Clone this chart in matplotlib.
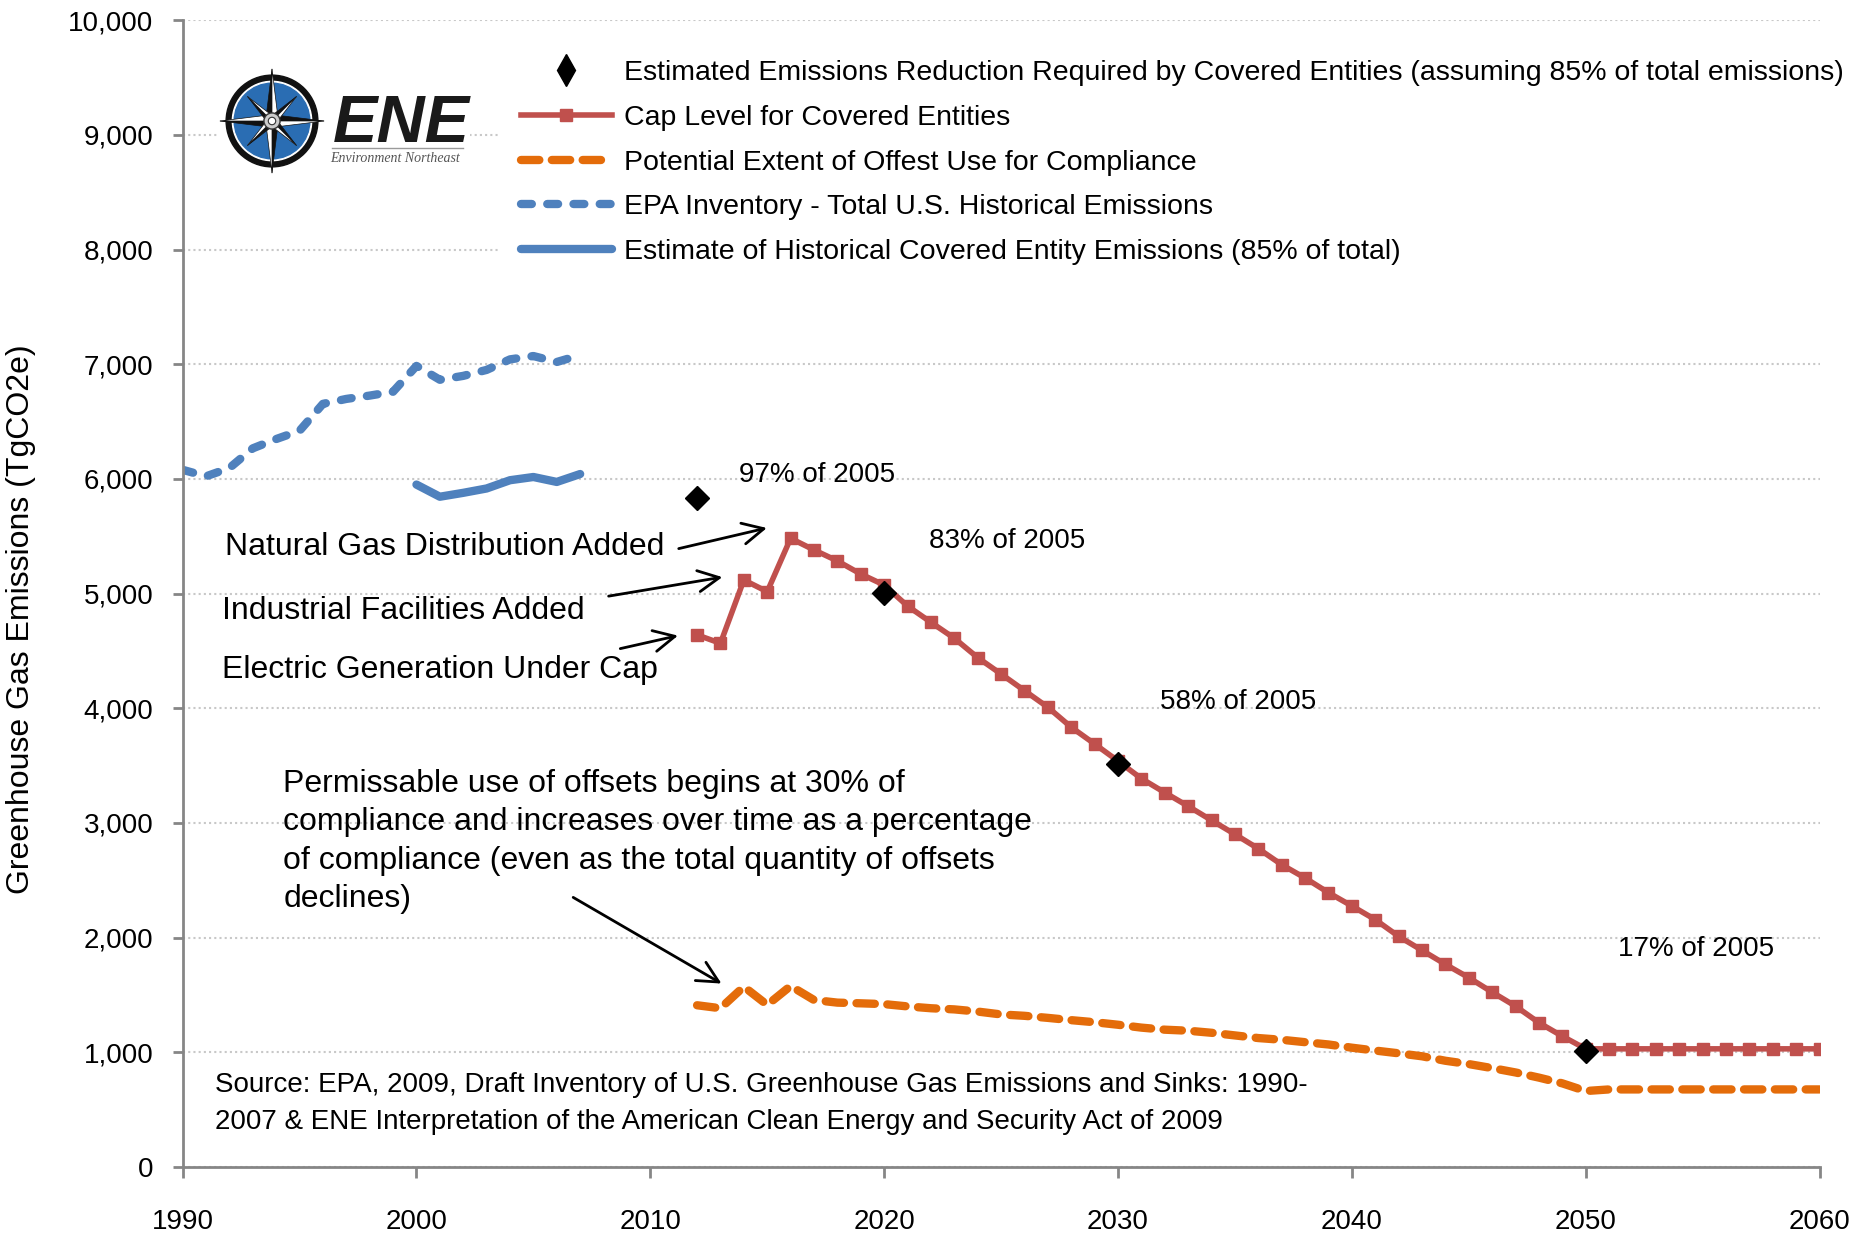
import numpy as np
import matplotlib
matplotlib.use('Agg')
import matplotlib.pyplot as plt
import matplotlib.ticker as mticker
from matplotlib.lines import Line2D
from matplotlib.patches import Circle, Polygon, Rectangle

plt.rcParams['font.family'] = ['Liberation Sans', 'DejaVu Sans']

# ---- data (TgCO2e) ----
hist_years = [1990, 1991, 1992, 1993, 1994, 1995, 1996, 1997, 1998,
              1999, 2000, 2001, 2002, 2003, 2004, 2005, 2006, 2007]
epa_total = [6080, 6023, 6095, 6267, 6348, 6420, 6655, 6698, 6727,
             6761, 6986, 6865, 6899, 6951, 7043, 7072, 7020, 7080]

covered_years = [2000, 2001, 2002, 2003, 2004, 2005, 2006, 2007]
covered_hist = [5951, 5845, 5879, 5917, 5989, 6017, 5974, 6043]

cap_years = list(range(2012, 2061))
cap_level = [4640, 4567, 5119, 5017, 5482, 5381, 5285, 5171, 5075, 4892,
             4750, 4611, 4442, 4299, 4154, 4009, 3835, 3689, 3540, 3387,
             3265, 3146, 3023, 2901, 2776, 2636, 2520, 2392, 2276, 2157,
             2011, 1889, 1767, 1651, 1524, 1402, 1258, 1140, 1030, 1030,
             1030, 1030, 1030, 1030, 1030, 1030, 1030, 1030, 1030]
offset_use = [1410, 1384, 1572, 1413, 1578, 1456, 1433, 1427, 1420, 1400,
              1384, 1374, 1355, 1330, 1318, 1300, 1280, 1262, 1240, 1215,
              1197, 1188, 1170, 1147, 1124, 1109, 1088, 1068, 1040, 1015,
              991, 965, 926, 897, 862, 824, 779, 729, 662, 676,
              676, 676, 676, 676, 676, 676, 676, 676, 676]

reduction_years = [2012, 2020, 2030, 2050]
reduction_req = [5830, 5003, 3510, 1015]
pct_labels = ['97% of 2005', '83% of 2005', '58% of 2005', '17% of 2005']

legend_labels = [
    'Estimated Emissions Reduction Required by Covered Entities (assuming 85% of total emissions)',
    'Cap Level for Covered Entities',
    'Potential Extent of Offest Use for Compliance',
    'EPA Inventory - Total U.S. Historical Emissions',
    'Estimate of Historical Covered Entity Emissions (85% of total)',
]

BLUE = '#4F81BD'
RED = '#C0504D'
ORANGE = '#E46C0A'
AXCOL = '#868686'

fig = plt.figure(figsize=(18.71, 12.38), dpi=100)
ax = fig.add_axes([0.0976, 0.0574, 0.8749, 0.9262])

epa, = ax.plot(hist_years, epa_total, color=BLUE, lw=6, dashes=(1.3, 1.85),
               dash_capstyle='round')
cov, = ax.plot(covered_years, covered_hist, color=BLUE, lw=6,
               solid_capstyle='round')
off, = ax.plot(cap_years, offset_use, color=ORANGE, lw=6, dashes=(2.2, 1.5),
               dash_capstyle='round')
cap, = ax.plot(cap_years, cap_level, color=RED, lw=4, marker='s', ms=9,
               mec=RED, mfc=RED)
ax.plot(reduction_years, reduction_req, ls='none', marker='D', ms=12,
        color='black', zorder=5)
red_proxy = Line2D([], [], ls='none', marker='d', ms=16, color='black')

ax.set_xlim(1990, 2060)
ax.set_ylim(0, 10000)
ax.set_xticks(range(1990, 2061, 10))
ax.yaxis.set_major_locator(mticker.MultipleLocator(1000))
ax.yaxis.set_major_formatter(mticker.StrMethodFormatter('{x:,.0f}'))

ax.yaxis.grid(True, color='#C8C8C8', lw=1.5, linestyle=(0, (1, 1.5)))
ax.set_axisbelow(True)
for s in ['top', 'right']:
    ax.spines[s].set_visible(False)
for s in ['left', 'bottom']:
    ax.spines[s].set_color(AXCOL)
    ax.spines[s].set_linewidth(2)
ax.tick_params(axis='y', direction='out', length=7, width=2, color=AXCOL,
               labelsize=20, pad=14)
ax.tick_params(axis='x', direction='out', length=8, width=2, color=AXCOL,
               labelsize=20, pad=22)

fig.text(21.5 / 1871, 1 - 619 / 1238, 'Greenhouse Gas Emissions (TgCO2e)',
         rotation=90, fontsize=23, ha='center', va='center')

leg = ax.legend([red_proxy, cap, off, epa, cov], legend_labels,
                loc='upper left', bbox_to_anchor=(498 / 1871, 0.970),
                bbox_transform=fig.transFigure, fontsize=20.5, frameon=True,
                fancybox=False, framealpha=1, edgecolor='none',
                facecolor='white', borderpad=0.8, handlelength=3.2,
                handletextpad=0.42, labelspacing=0.66, borderaxespad=0)

# percent labels
pct_pos = [(2013.8, 6035), (2021.9, 5463), (2031.8, 4059), (2051.4, 1905)]
for (x, y), s in zip(pct_pos, pct_labels):
    ax.text(x, y, s, fontsize=20, ha='left', va='center')

# sector annotations
arrow = dict(arrowstyle='->', lw=2, color='black', mutation_scale=38)
notes = [
    ('Natural Gas Distribution Added', (1991.8, 5410), (2011.1, 5387), (2015.1, 5578)),
    ('Industrial Facilities Added', (1991.7, 4851), (2008.1, 4974), (2013.2, 5148)),
    ('Electric Generation Under Cap', (1991.7, 4334), (2008.6, 4515), (2011.3, 4639)),
]
for s, tpos, tail, head in notes:
    ax.text(tpos[0], tpos[1], s, fontsize=23, ha='left', va='center')
    ax.annotate('', xy=head, xytext=tail, arrowprops=arrow)

ax.text(1994.3, 2840,
        'Permissable use of offsets begins at 30% of\n'
        'compliance and increases over time as a percentage\n'
        'of compliance (even as the total quantity of offsets\n'
        'declines)', fontsize=23, ha='left', va='center', linespacing=1.37)
ax.annotate('', xy=(2013.15, 1587), xytext=(2006.6, 2363), arrowprops=arrow)

ax.text(1991.4, 555,
        'Source: EPA, 2009, Draft Inventory of U.S. Greenhouse Gas Emissions and Sinks: 1990-\n'
        '2007 & ENE Interpretation of the American Clean Energy and Security Act of 2009',
        fontsize=20, ha='left', va='center', linespacing=1.55)

# ---- ENE logo ----
fig.add_artist(Rectangle((217 / 1871, 1 - 185 / 1238), 253 / 1871, 130 / 1238,
                         transform=fig.transFigure, fc='white', ec='none',
                         zorder=1))
lax = fig.add_axes([(272 - 62) / 1871, 1 - (121 + 62) / 1238, 124 / 1871, 124 / 1238])
lax.set_zorder(2)
lax.set_xlim(-1, 1)
lax.set_ylim(-1, 1)
lax.axis('off')
lax.add_patch(Circle((0, 0), 0.74, color='#111111'))
lax.add_patch(Circle((0, 0), 0.64, color='white'))
lax.add_patch(Circle((0, 0), 0.61, color='#2a6db3'))
for ang, length, w in [(0, 0.84, 0.13), (90, 0.84, 0.13), (180, 0.84, 0.13), (270, 0.84, 0.13),
                       (45, 0.56, 0.09), (135, 0.56, 0.09), (225, 0.56, 0.09), (315, 0.56, 0.09)]:
    a = np.deg2rad(ang)
    tip = (length * np.cos(a), length * np.sin(a))
    left = (w * np.cos(a + np.pi / 4), w * np.sin(a + np.pi / 4))
    right = (w * np.cos(a - np.pi / 4), w * np.sin(a - np.pi / 4))
    lax.add_patch(Polygon([(0, 0), tip, left], closed=True, fc='#111111', ec='#111111', lw=0.5))
    lax.add_patch(Polygon([(0, 0), tip, right], closed=True, fc='white', ec='#111111', lw=0.5))
lax.add_patch(Circle((0, 0), 0.13, fc='#cccccc', ec='#333333', lw=1))
lax.add_patch(Circle((0, 0), 0.06, fc='white', ec='#333333', lw=0.8))

fig.text(333 / 1871, 1 - 142 / 1238, 'ENE', fontsize=48, fontweight='bold',
         fontstyle='italic', color='#1a1a1a', ha='left', va='baseline',
         zorder=3)
fig.add_artist(Line2D([332 / 1871, 463 / 1871], [1 - 148 / 1238] * 2,
                      color='#9a9a9a', lw=1, zorder=3))
fig.text(395 / 1871, 1 - 159 / 1238, 'Environment Northeast',
         family=['Liberation Serif', 'DejaVu Serif'], fontstyle='italic',
         fontsize=10, color='#555555', ha='center', va='center', zorder=3)

fig.savefig('out.png', dpi=100)
